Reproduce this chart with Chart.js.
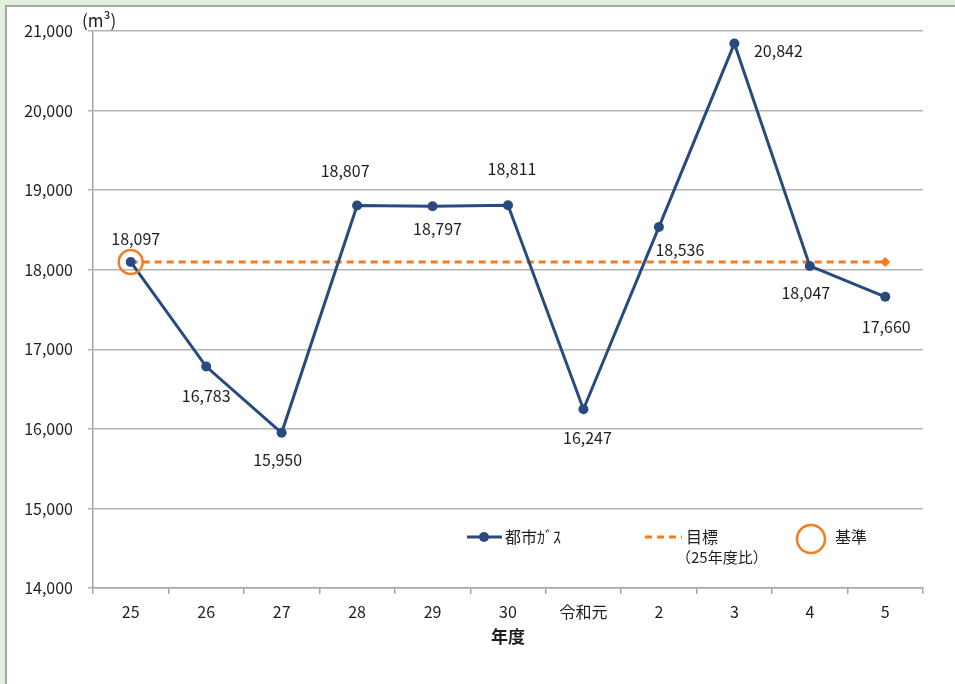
<!DOCTYPE html>
<html>
<head>
<meta charset="utf-8">
<script src="https://cdn.jsdelivr.net/npm/chart.js@4.4.1/dist/chart.umd.min.js"></script>
<style>
  html, body { margin: 0; padding: 0; }
  body { width: 955px; height: 684px; background: #e2efda; position: relative; overflow: hidden; }
  #frame { position: absolute; left: 5px; top: 5px; width: 950px; height: 679px; background: #fff;
           border-left: 2px solid #a6a6a6; border-top: 2px solid #a6a6a6; box-sizing: border-box; }
  #chart { position: absolute; left: 0; top: 0; }
</style>
</head>
<body>
<div id="frame"></div>
<canvas id="chart" width="955" height="684"></canvas>
<script>
const years = ['25', '26', '27', '28', '29', '30', '令和元', '2', '3', '4', '5'];
const cityGas = [18097, 16783, 15950, 18807, 18797, 18811, 16247, 18536, 20842, 18047, 17660];
const target = [18097, 18097, 18097, 18097, 18097, 18097, 18097, 18097, 18097, 18097, 18097];
const base = [18097, null, null, null, null, null, null, null, null, null, null];
const yTicks = [14000, 15000, 16000, 17000, 18000, 19000, 20000, 21000];

// label offsets (px) relative to each point
const labelOffsets = [[5, -23], [0, 29], [-4, 27], [-12, -35], [5, 23], [4, -36], [4, 29], [21, 23], [44, 7], [-4, 27], [1, 30]];

const blue = '#284a7e';
const orange = '#f47b20';
const textColor = '#1e1e1e';
const font = '"Noto Sans CJK JP", "Noto Sans", sans-serif';

const fmt = v => v.toLocaleString('en-US');

const extras = {
  id: 'extras',
  afterDatasetsDraw(chart) {
    const ctx = chart.ctx;
    const meta = chart.getDatasetMeta(0);
    ctx.save();
    ctx.fillStyle = textColor;
    ctx.font = '16px ' + font;
    ctx.textAlign = 'center';
    ctx.textBaseline = 'middle';
    meta.data.forEach((pt, i) => {
      const [dx, dy] = labelOffsets[i];
      ctx.fillText(fmt(cityGas[i]), pt.x + dx, pt.y + dy);
    });

    // unit
    ctx.textAlign = 'left';
    ctx.font = '17px ' + font;
    ctx.fillText('(m³)', chart.chartArea.left - 11, 21);

    // legend
    const ly = 537;
    ctx.strokeStyle = blue;
    ctx.lineWidth = 3;
    ctx.beginPath(); ctx.moveTo(467, ly); ctx.lineTo(502, ly); ctx.stroke();
    ctx.fillStyle = blue;
    ctx.beginPath(); ctx.arc(484, ly, 5, 0, Math.PI * 2); ctx.fill();
    ctx.fillStyle = textColor;
    ctx.font = '16px ' + font;
    ctx.fillText('都市ｶﾞｽ', 505, ly);

    ctx.strokeStyle = orange;
    ctx.setLineDash([7, 5]);
    ctx.beginPath(); ctx.moveTo(645, ly); ctx.lineTo(682, ly); ctx.stroke();
    ctx.setLineDash([]);
    ctx.fillText('目標', 686, ly);
    ctx.font = '15px ' + font;
    ctx.fillText('（25年度比）', 676, ly + 20);

    ctx.lineWidth = 2.5;
    ctx.beginPath(); ctx.arc(811, ly + 2, 14, 0, Math.PI * 2); ctx.stroke();
    ctx.font = '16px ' + font;
    ctx.fillText('基準', 835, ly);
    ctx.restore();
  }
};

new Chart(document.getElementById('chart'), {
  type: 'line',
  data: {
    labels: years,
    datasets: [
      {
        label: '都市ｶﾞｽ',
        data: cityGas,
        borderColor: blue,
        backgroundColor: blue,
        borderWidth: 3,
        pointRadius: 5,
        pointBackgroundColor: blue,
        pointBorderWidth: 0,
        tension: 0,
        order: 2
      },
      {
        label: '目標（25年度比）',
        data: target,
        borderColor: orange,
        backgroundColor: orange,
        borderWidth: 3,
        borderDash: [7, 5],
        pointStyle: 'rectRot',
        pointRadius: target.map((v, i) => i === target.length - 1 ? 5 : 0),
        pointBorderWidth: 0,
        order: 3
      },
      {
        label: '基準',
        data: base,
        showLine: false,
        pointStyle: 'circle',
        pointRadius: 12,
        pointBorderWidth: 2.5,
        pointBorderColor: orange,
        pointBackgroundColor: 'rgba(0,0,0,0)',
        order: 1
      }
    ]
  },
  options: {
    responsive: false,
    animation: false,
    layout: { padding: { top: 31, right: 32, left: 0, bottom: 0 } },
    plugins: {
      legend: { display: false },
      tooltip: { enabled: false }
    },
    scales: {
      x: {
        offset: true,
        grid: { offset: true, drawOnChartArea: false, drawTicks: true, tickLength: 6, color: '#a6a6a6', lineWidth: 1.5 },
        border: { color: '#a6a6a6', width: 1.5 },
        ticks: { color: textColor, font: { size: 16, family: font }, padding: 8 },
        title: { display: true, text: '年度', color: textColor, font: { size: 17, weight: 'bold', family: font }, padding: { top: 0, bottom: 37 } },
        afterFit: s => { s.height = 96; }
      },
      y: {
        min: 14000,
        max: 21000,
        afterBuildTicks: s => { s.ticks = yTicks.map(v => ({ value: v })); },
        grid: { color: '#b4b4b4', lineWidth: 1.5, tickLength: 5 },
        border: { color: '#a6a6a6', width: 1.5 },
        ticks: { color: textColor, font: { size: 16, family: font }, padding: 15, callback: v => fmt(v) },
        afterFit: s => { s.width = 93; }
      }
    }
  },
  plugins: [extras]
});
</script>
</body>
</html>
